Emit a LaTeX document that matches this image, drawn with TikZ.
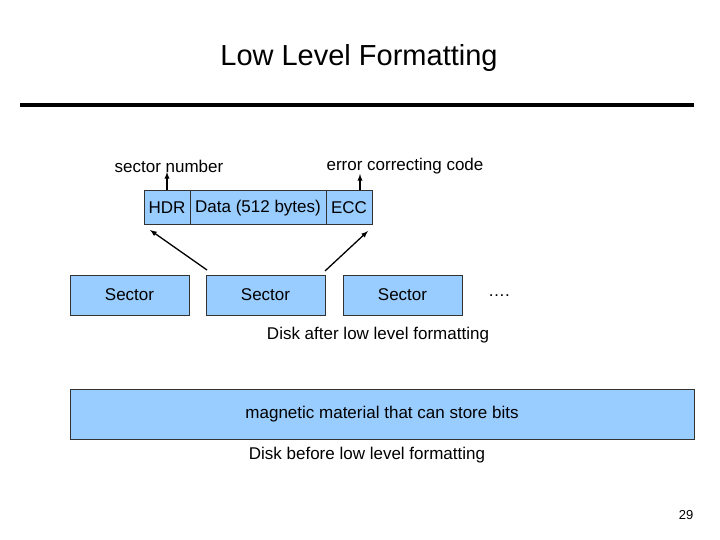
\documentclass[tikz,border=0pt]{standalone}
\usepackage{fontspec}
\setmainfont{Liberation Sans}
\begin{document}
\begin{tikzpicture}[x=1pt,y=-1pt,
 box/.style={draw=black!80,fill=blueL,line width=0.6pt},
 lbl/.style={font=\fontsize{17}{20}\selectfont},
 arr/.style={-latex,line width=1.3pt}]
\definecolor{blueL}{HTML}{99CCFF}
\useasboundingbox (0,0) rectangle (720,540);
\node[font=\fontsize{29}{34}\selectfont] (title) at (359,58) {Low Level Formatting};
\draw[line width=3.5pt] (20,105) -- (694,105);
\node[lbl] (sn) at (169,166) {sector number};
\node[lbl] (ecc) at (405,166) {error correcting code};
\draw[box] (144,190) rectangle (372,224);
\draw[black!80,line width=0.6pt] (190,190) -- (190,224) (326,190) -- (326,224);
\node[lbl] (hdr) at (167,208) {HDR};
\node[lbl] (data) at (258,208) {Data (512 bytes)};
\node[lbl] (ec) at (349,208) {ECC};
\coordinate (a1) at (167,190); \coordinate (a1e) at (167,172);
\coordinate (a2) at (360,190); \coordinate (a2e) at (360,174);
\draw[arr] (a1) -- (a1e);
\draw[arr] (a2) -- (a2e);
\node[box,lbl,minimum width=119,minimum height=40] (s1) at (129.5,295) {Sector};
\node[box,lbl,minimum width=119,minimum height=40] (s2) at (265.5,295) {Sector};
\node[box,lbl,minimum width=119,minimum height=40] (s3) at (402.5,295) {Sector};
\node[lbl] (dots) at (499,296) {\dots.};
\coordinate (h1) at (150,230); \coordinate (h2) at (368,231);
\draw[arr] (207,270) -- (h1);
\draw[arr] (325,271) -- (h2);
\node[lbl] (after) at (378,335) {Disk after low level formatting};
\node[box,lbl,minimum width=624,minimum height=50] (bar) at (382,414) {};
\node[lbl] at (382,414) {magnetic material that can store bits};
\node[lbl] (before) at (367,455) {Disk before low level formatting};
\node[font=\fontsize{13}{15}\selectfont] (pg) at (686,515) {29};
\end{tikzpicture}
\end{document}
